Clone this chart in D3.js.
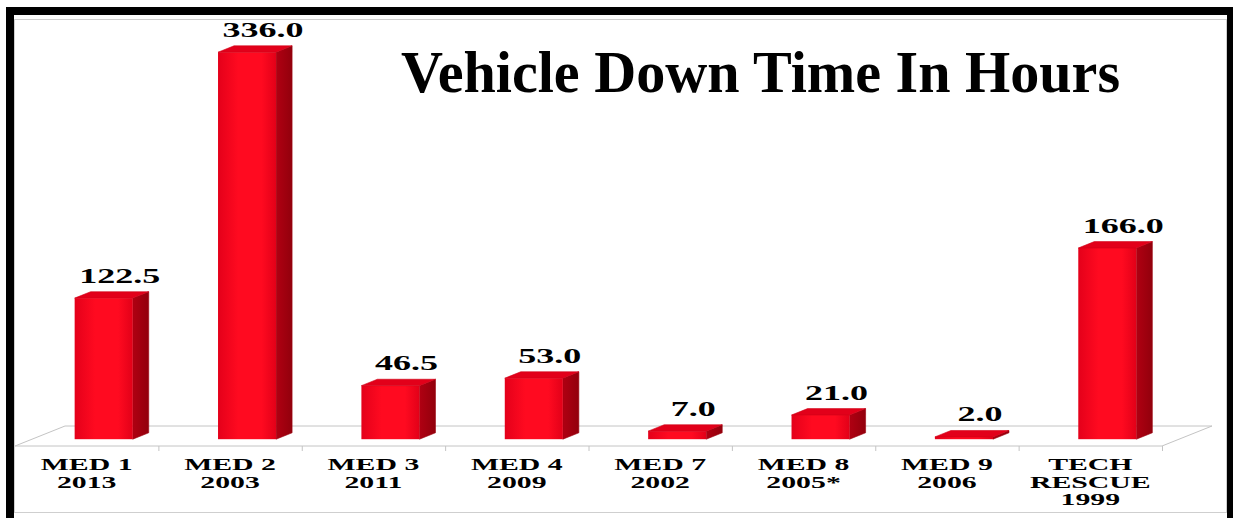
<!DOCTYPE html>
<meta charset="utf-8">
<style type="text/css">
body { margin: 0; background: #fff; }
.floor { fill: #fff; stroke: #c4c4c4; stroke-width: 1; }
.ticks path { display: none; }
.ticks line { stroke: #c4c4c4; }
.lbl { font-family: "Liberation Serif", "Times New Roman", serif; font-weight: bold; fill: #000; }
</style>
<body>
<div id="chart"></div>
<script src="https://d3js.org/d3.v7.min.js"></script>
<script>

// chart data
var categories = [["MED 1", "2013"], ["MED 2", "2003"], ["MED 3", "2011"], ["MED 4", "2009"],
                  ["MED 7", "2002"], ["MED 8", "2005*"], ["MED 9", "2006"], ["TECH", "RESCUE", "1999"]];
var hours = [122.5, 336.0, 46.5, 53.0, 7.0, 21.0, 2.0, 166.0];
var title = "Vehicle Down Time In Hours";

var W = 1233, H = 518;

// floor (front edge) and depth of the 3d look
var floorY = 446, left = 15, right = 1162;
var depth = {dx: 50, dy: -20};
var front = 0.34, back = 0.66;   // bar planes as a share of the floor depth

var x = d3.scaleBand()
    .domain(d3.range(categories.length))
    .range([left, right]);

var y = d3.scaleLinear()
    .domain([0, 336])
    .range([floorY, 59]);

var barW = x.bandwidth() * 0.405;

var svg = d3.select("#chart").append("svg")
    .attr("width", W)
    .attr("height", H);

var defs = svg.append("defs");
var gFront = defs.append("linearGradient").attr("id", "gFront");
gFront.append("stop").attr("offset", "0%").attr("stop-color", "#e4001a");
gFront.append("stop").attr("offset", "35%").attr("stop-color", "#ff0a20");
gFront.append("stop").attr("offset", "75%").attr("stop-color", "#ff0a20");
gFront.append("stop").attr("offset", "100%").attr("stop-color", "#e20018");
var gSide = defs.append("linearGradient").attr("id", "gSide");
gSide.append("stop").attr("offset", "0%").attr("stop-color", "#b00012");
gSide.append("stop").attr("offset", "100%").attr("stop-color", "#92000c");

// frame
svg.append("rect").attr("x", 14.5).attr("y", 19.5).attr("width", 1212).attr("height", 493)
    .attr("fill", "none").attr("stroke", "#cfcfcf");
svg.append("rect").attr("x", 6).attr("y", 7).attr("width", W - 6).attr("height", 8).attr("fill", "#000");
svg.append("rect").attr("x", 6).attr("y", 7).attr("width", 8).attr("height", H - 7).attr("fill", "#000");
svg.append("rect").attr("x", 1227).attr("y", 7).attr("width", 6).attr("height", H - 7).attr("fill", "#000");

// floor
svg.append("polygon")
    .attr("class", "floor")
    .attr("points", [[left, floorY], [right, floorY],
                     [right + depth.dx, floorY + depth.dy], [left + depth.dx, floorY + depth.dy]].join(" "));

var tickScale = d3.scaleLinear().domain([0, categories.length]).range([left, right]);
svg.append("g")
    .attr("class", "ticks")
    .attr("transform", "translate(0," + floorY + ")")
    .call(d3.axisBottom(tickScale).tickValues(d3.range(1, categories.length + 1)).tickSize(5).tickFormat(""));

// bars
var fdx = depth.dx * front, fdy = depth.dy * front;
var bdx = depth.dx * (back - front), bdy = depth.dy * (back - front);

var bars = svg.selectAll(".bar")
    .data(hours)
  .enter().append("g")
    .attr("class", "bar");

function cx(i) { return x(i) + x.bandwidth() / 2; }

bars.each(function(d, i) {
    var g = d3.select(this);
    var x0 = cx(i) + fdx - barW / 2, x1 = x0 + barW;
    var yt = y(d) + fdy, yb = y(0) + fdy;
    g.append("polygon")
        .attr("points", [[x1, yt], [x1 + bdx, yt + bdy], [x1 + bdx, yb + bdy], [x1, yb]].join(" "))
        .attr("fill", "url(#gSide)").attr("stroke", "#9a000e").attr("stroke-width", 0.6)
        .attr("stroke-linejoin", "round");
    g.append("rect")
        .attr("x", x0).attr("y", yt)
        .attr("width", barW).attr("height", yb - yt)
        .attr("fill", "url(#gFront)");
    g.append("polygon")
        .attr("points", [[x0, yt], [x1, yt], [x1 + bdx, yt + bdy], [x0 + bdx, yt + bdy]].join(" "))
        .attr("fill", "#e2001a").attr("stroke", "#d00016").attr("stroke-width", 0.6)
        .attr("stroke-linejoin", "round");
});

// stretch text horizontally like the original picture
function stretch(sel, k) {
    sel.each(function() {
        var len = this.getComputedTextLength();
        d3.select(this).attr("textLength", len * k).attr("lengthAdjust", "spacingAndGlyphs");
    });
}

// value labels
svg.selectAll(".val")
    .data(hours)
  .enter().append("text")
    .attr("class", "lbl val")
    .attr("x", function(d, i) { return cx(i) + depth.dx * back; })
    .attr("y", function(d) { return y(d) + depth.dy * back - 9; })
    .attr("text-anchor", "middle")
    .style("font-size", "20px")
    .text(function(d) { return d.toFixed(1); })
    .call(stretch, 1.8);

// category labels, one text per line
svg.selectAll(".cat")
    .data(categories.flatMap(function(d, i) { return d.map(function(s, j) { return {s: s, i: i, j: j}; }); }))
  .enter().append("text")
    .attr("class", "lbl cat")
    .attr("text-anchor", "middle")
    .style("font-size", "16px")
    .attr("x", function(d) { return cx(d.i); })
    .attr("y", function(d) { return 470 + d.j * 17.5; })
    .text(function(d) { return d.s; })
    .call(stretch, 1.86);

// title
svg.append("text")
    .attr("class", "lbl")
    .attr("x", 760.5)
    .attr("y", 92)
    .attr("text-anchor", "middle")
    .style("font-size", "59px")
    .attr("textLength", 719)
    .attr("lengthAdjust", "spacingAndGlyphs")
    .text(title);

</script>
</body>
